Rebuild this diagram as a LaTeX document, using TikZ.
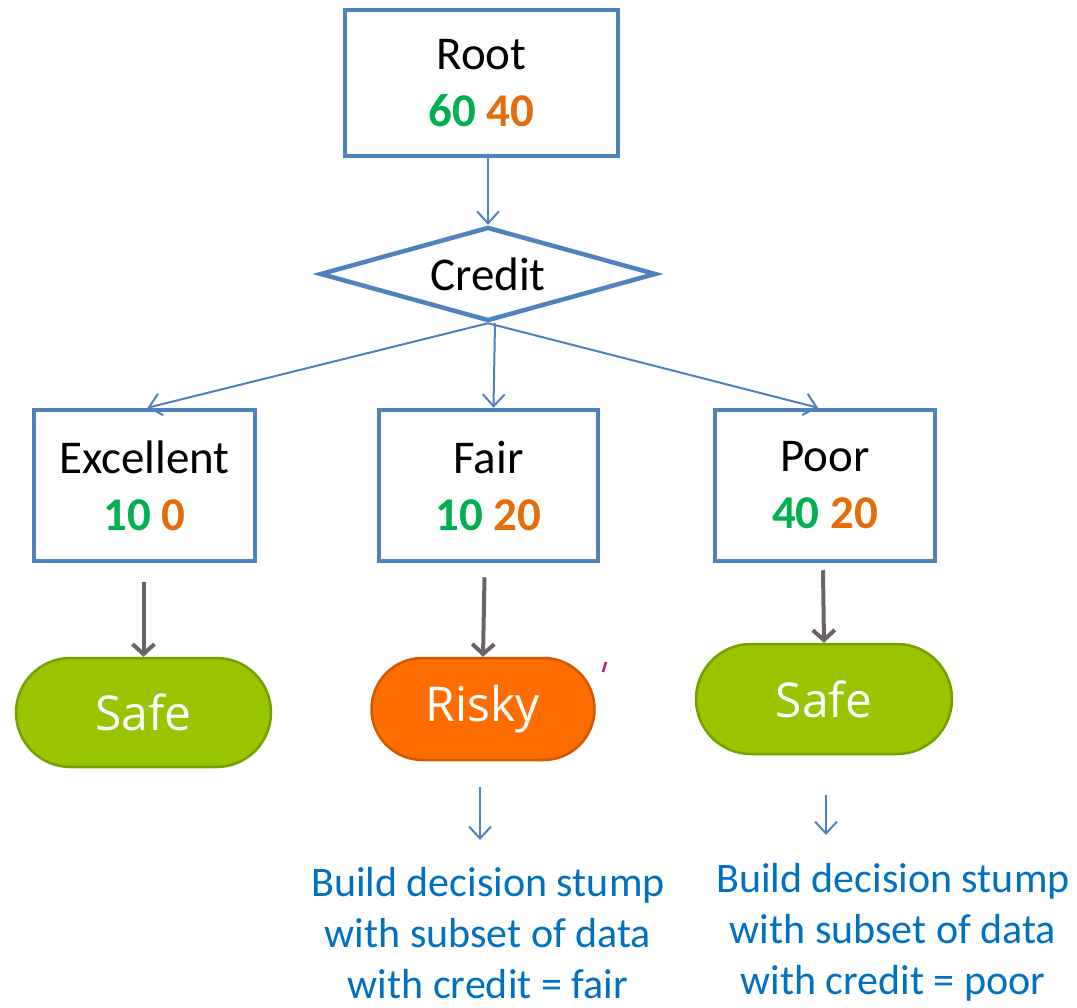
\documentclass[tikz,border=0pt]{standalone}
\usepackage{fontspec}
\setmainfont{Carlito}
\newfontfamily\tagfont{Open Sans}
\usetikzlibrary{arrows.meta,shapes.geometric,shapes.misc,calc}

\definecolor{boxblue}{HTML}{4F81BD}
\definecolor{numgreen}{HTML}{00B050}
\definecolor{numorange}{HTML}{E46C0A}
\definecolor{arrowgray}{HTML}{6B6466}
\definecolor{safefill}{HTML}{99C400}
\definecolor{safeedge}{HTML}{76A000}
\definecolor{riskyfill}{HTML}{FF6C00}
\definecolor{riskyedge}{HTML}{D25800}
\definecolor{notetext}{HTML}{0070C0}
\definecolor{stray}{HTML}{C0188C}

\begin{document}
\begin{tikzpicture}[x=1pt,y=-1pt,
  box/.style={draw=boxblue, line width=4.5pt, fill=white, align=center,
    inner sep=0pt, font=\fontsize{47}{57}\selectfont},
  flow/.style={draw=boxblue, line width=2pt,
    -{Straight Barb[length=12pt,width=22pt]}},
  leafarrow/.style={draw=arrowgray, line width=4pt,
    -{Straight Barb[length=10pt,width=22pt]}},
  leaf/.style={rounded rectangle, line width=2.5pt, text=white, inner sep=0pt,
    font=\tagfont\fontsize{48}{58}\selectfont},
  note/.style={text=notetext, align=center, inner sep=0pt, anchor=north,
    font=\fontsize{42}{51}\selectfont}]
\useasboundingbox (0,0) rectangle (1077,1008);

% root and the split on credit
\node[box, minimum width=273, minimum height=146] (root) at (481.5,83)
  {Root\\\textbf{\textcolor{numgreen}{60} \textcolor{numorange}{40}}};
\node[draw=boxblue, line width=4.5pt, fill=white, diamond, shape aspect=3.6,
  minimum width=336, minimum height=94, inner sep=0pt,
  font=\fontsize{47}{57}\selectfont] (credit) at (488,274) {Credit};

% one box per credit value
\node[box, minimum width=221, minimum height=151] (exc) at (144.5,485.5)
  {Excellent\\\textbf{\textcolor{numgreen}{10} \textcolor{numorange}{0}}};
\node[box, minimum width=219, minimum height=151] (fair) at (488.5,485.5)
  {Fair\\\textbf{\textcolor{numgreen}{10} \textcolor{numorange}{20}}};
\node[box, minimum width=220, minimum height=151] (poor) at (825,485.5)
  {Poor\\\textbf{\textcolor{numgreen}{40} \textcolor{numorange}{20}}};

% leaf decisions
\node[leaf, draw=safeedge, fill=safefill, minimum width=255, minimum height=109]
  (safeA) at (143.5,712.5) {Safe};
\node[leaf, draw=riskyedge, fill=riskyfill, minimum width=223, minimum height=102]
  (risky) at (483,709) {Risky};
\node[leaf, draw=safeedge, fill=safefill, minimum width=256, minimum height=110]
  (safeB) at (824,699) {Safe};

% follow-up notes
\node[note] (fairnote) at (488,867)
  {Build decision stump\\with subset of data\\with credit = fair};
\node[note] (poornote) at (893,863)
  {Build decision stump\\with subset of data\\with credit = poor};

% connectors
\draw[flow] (root.south -| credit.north) -- (credit.north);
\draw[flow] (credit.south) -- ($(exc.north)+(3,0)$);
\draw[flow] ($(credit.south)+(7,0)$) -- ($(fair.north)+(5,0)$);
\draw[flow] (credit.south) -- ($(poor.north)+(-7,0)$);

\draw[leafarrow] ($(exc.south)+(-1,19)$) -- (safeA.north);
\draw[leafarrow] ($(fair.south)+(-4,14)$) -- (risky.north);
\draw[leafarrow] ($(poor.south)+(-2,7)$) -- (safeB.north);

\draw[flow] ($(risky.south)+(-3,26)$) -- ($(fairnote.north)+(-8,-27)$);
\draw[flow] ($(safeB.south)+(2,40)$) -- ($(poornote.north)+(-67,-28)$);

% small stray pen mark beside the risky leaf
\draw[stray, line width=2.5pt] (603,672) -- (606,662);
\end{tikzpicture}
\end{document}
